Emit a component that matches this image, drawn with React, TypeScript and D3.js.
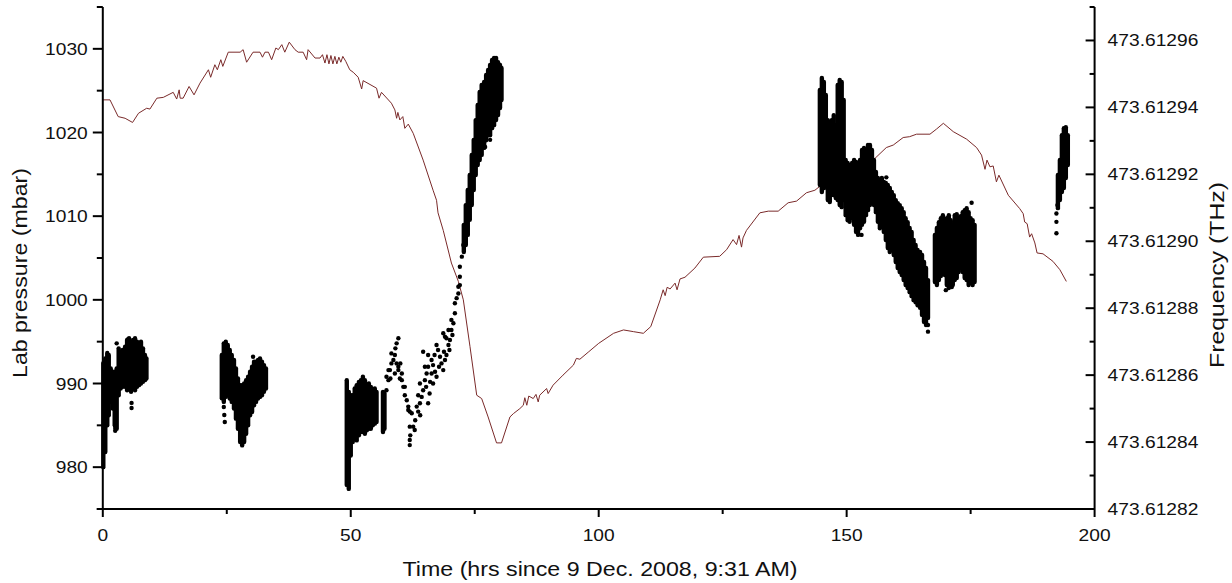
import React from "react";
import * as d3 from "d3";

const W = 1232;
const H = 583;
const M = { left: 102.8, right: 137.4, top: 7, bottom: 74 };

// Frequency reference (THz); frequency data below are offsets from it in MHz
const F0_THZ = 473.6128;

// Axis ticks
const timeMajor = [0, 50, 100, 150, 200];
const timeMinor = [25, 75, 125, 175];
const pressMajor = [980, 990, 1000, 1010, 1020, 1030];
const pressMinor = [975, 985, 995, 1005, 1015, 1025, 1035];
const freqMajorMHz = [20, 40, 60, 80, 100, 120, 140, 160];
const freqMinorMHz = [30, 50, 70, 90, 110, 130, 150, 170];

// Lab pressure: [hours, mbar]
const pressure: [number, number][] = [
  [0, 1023.9], [1.45, 1023.9], [3.1, 1021.9], [4.5, 1021.7], [6.0, 1021.2], [7.2, 1022.3],
  [8.85, 1022.9], [9.5, 1022.8], [10.9, 1024.1], [12.2, 1024.2], [14.2, 1024.8], [14.9, 1024.0],
  [15.4, 1025.1], [15.6, 1024.1], [16.2, 1024.1], [17.4, 1025.5], [18.4, 1024.5], [19.6, 1025.9],
  [21.3, 1027.5], [21.75, 1026.6], [22.6, 1028.1], [23.1, 1027.5], [23.8, 1028.7], [24.2, 1027.9],
  [25.3, 1029.6], [27.7, 1029.6], [28.3, 1029.9], [29.0, 1028.4], [30.3, 1029.6], [31.7, 1029.6],
  [32.2, 1029.0], [32.7, 1029.6], [33.4, 1029.6], [34.05, 1028.7], [34.9, 1030.1], [35.4, 1029.9],
  [36.1, 1030.5], [36.7, 1029.6], [37.6, 1030.8], [38.75, 1029.9], [39.4, 1029.6], [40.4, 1029.6],
  [41.1, 1028.7], [41.4, 1029.9], [42.8, 1028.9], [43.8, 1028.9], [44.3, 1029.3], [44.8, 1028.3],
  [45.2, 1029.3], [45.6, 1028.2], [46.0, 1029.2], [46.4, 1028.2], [46.8, 1029.1], [47.2, 1028.2],
  [47.6, 1029.0], [48.0, 1028.4], [48.4, 1029.1], [49.0, 1028.5], [49.8, 1027.5], [50.5, 1027.2],
  [51.5, 1026.6], [52.2, 1025.2], [52.5, 1026.2], [55.2, 1025.3], [55.7, 1024.1], [56.2, 1024.8],
  [58.2, 1023.5], [58.9, 1022.7], [59.25, 1021.7], [59.5, 1022.4], [59.9, 1021.5], [60.5, 1021.9],
  [60.9, 1020.5], [61.6, 1021.0], [62.6, 1019.9], [64.6, 1016.7], [66.6, 1013.1], [67.3, 1011.9],
  [67.6, 1010.4], [68.65, 1008.3], [70.3, 1004.4], [71.7, 1002.2], [72.7, 1000.0], [74.05, 994.4],
  [75.4, 988.6], [76.4, 988.2], [77.7, 986.0], [79.4, 982.9], [80.4, 982.9], [82.1, 986.0],
  [82.8, 986.4], [84.1, 987.0], [84.8, 987.4], [85.1, 988.3], [85.5, 987.4], [85.9, 988.5],
  [86.8, 988.2], [87.35, 988.7], [87.8, 987.8], [88.1, 988.6], [89.5, 989.4], [89.8, 988.8],
  [90.8, 989.8], [92.8, 991.0], [94.9, 992.2], [95.5, 993.0], [96.2, 992.9], [98.0, 993.8],
  [100.0, 994.8], [103.0, 996.0], [105.0, 996.4], [107.0, 996.2], [109.0, 996.0], [110.5, 996.8],
  [112.4, 1000.0], [113.0, 1001.2], [113.4, 1000.5], [113.8, 1001.5], [114.4, 1001.3], [115.4, 1002.0],
  [115.8, 1001.2], [116.4, 1002.5], [117.4, 1002.7], [119.4, 1003.8], [121.1, 1005.1], [124.4, 1005.2],
  [125.8, 1006.0], [127.1, 1007.2], [127.8, 1006.6], [128.3, 1007.7], [128.8, 1006.3], [129.1, 1007.4],
  [129.8, 1008.3], [132.5, 1010.4], [134.2, 1010.6], [136.2, 1010.6], [138.2, 1011.6], [139.9, 1011.8],
  [141.9, 1012.8], [143.6, 1013.1], [145.3, 1013.9], [149.7, 1014.9], [152.7, 1016.1], [155.7, 1016.9],
  [158.0, 1018.2], [159.4, 1018.5], [161.4, 1019.4], [162.7, 1019.5], [164.1, 1019.8], [166.8, 1019.8],
  [168.1, 1020.4], [169.5, 1021.1], [171.5, 1020.1], [174.2, 1019.2], [176.2, 1018.2], [177.2, 1017.3],
  [177.9, 1015.6], [178.3, 1016.7], [178.9, 1015.9], [179.55, 1016.0], [180.2, 1014.1], [180.7, 1014.9],
  [182.6, 1012.5], [184.9, 1010.9], [185.6, 1010.3], [185.9, 1009.3], [186.4, 1009.1], [186.9, 1007.5],
  [187.3, 1007.9], [187.95, 1006.8], [188.4, 1005.6], [189.6, 1005.5], [191.6, 1004.6], [193.0, 1003.6],
  [194.3, 1002.2],
];

// Frequency, dense runs of measurements: [hours, highest MHz, lowest MHz] (offset from F0_THZ)
const freqRunA: [number, number, number][] = [
  [0.1, 63.6, 32.5], [0.5, 65.0, 37.0], [0.9, 66.6, 45.0], [1.2, 66.0, 48.0], [1.6, 62.0, 52.0],
  [2.0, 61.0, 50.0], [2.4, 61.0, 45.0], [2.8, 62.0, 44.0], [3.2, 68.0, 54.0], [3.6, 67.0, 56.0],
  [4.0, 67.5, 56.5], [4.5, 68.5, 56.5], [4.9, 70.5, 55.5], [5.3, 71.0, 56.0], [5.7, 70.0, 55.0],
  [6.1, 70.5, 56.0], [6.5, 71.0, 55.5], [6.9, 70.0, 56.5], [7.3, 69.5, 57.0], [7.7, 70.0, 57.5],
  [8.1, 68.0, 58.0], [8.5, 66.0, 58.5], [8.8, 65.0, 59.0],
];
const freqRunB: [number, number, number][] = [
  [24.0, 66.0, 53.1], [24.4, 69.5, 52.0], [24.8, 70.0, 53.5], [25.2, 69.0, 54.0], [25.6, 67.5, 53.0],
  [26.0, 66.0, 52.0], [26.45, 64.5, 50.0], [26.85, 62.0, 47.0], [27.25, 59.0, 44.0], [27.7, 57.0, 40.0],
  [28.1, 57.0, 39.0], [28.5, 57.5, 40.0], [28.9, 58.5, 42.5], [29.3, 59.5, 45.0], [29.7, 61.0, 48.0],
  [30.1, 62.5, 49.0], [30.5, 64.0, 51.0], [30.9, 64.0, 52.0], [31.3, 64.5, 53.0], [31.7, 65.0, 53.5],
  [32.1, 64.0, 54.0], [32.5, 63.0, 55.0], [32.9, 62.0, 56.0],
];
const freqRunC: [number, number, number][] = [
  [49.2, 58.5, 27.2], [49.6, 55.0, 26.0], [50.0, 54.0, 36.0], [50.4, 54.0, 40.0], [50.8, 56.0, 41.0],
  [51.2, 57.0, 40.5], [51.65, 58.0, 42.0], [52.05, 58.5, 43.0], [52.45, 59.5, 43.0], [52.85, 58.5, 42.5],
  [53.25, 57.0, 43.5], [53.65, 57.5, 44.0], [54.05, 56.5, 44.0], [54.45, 55.5, 45.0], [54.85, 56.0, 45.5],
  [55.2, 55.0, 46.0], [56.5, 55.0, 43.0], [56.8, 54.5, 44.0],
];
const freqRunD: [number, number, number][] = [
  [72.8, 104.9, 96.8], [73.2, 110.8, 98.9], [73.6, 115.3, 101.9], [74.0, 119.8, 106.4], [74.4, 125.8, 110.8],
  [74.8, 130.3, 115.3], [75.2, 136.2, 119.8], [75.6, 140.7, 122.8], [76.0, 144.6, 124.3], [76.4, 146.7, 125.8],
  [76.9, 147.6, 127.9], [77.3, 149.7, 130.2], [77.7, 151.2, 131.7], [78.1, 152.7, 131.7], [78.5, 154.2, 133.8],
  [78.9, 154.8, 134.7], [79.3, 154.8, 136.2], [79.7, 153.5, 137.7], [80.1, 152.7, 139.8], [80.4, 151.8, 142.2],
];
const freqRunE: [number, number, number][] = [
  [144.6, 145.2, 116.8], [145.0, 148.8, 114.7], [145.4, 147.6, 115.9], [145.8, 143.7, 118.3], [146.2, 136.2, 112.3],
  [146.6, 134.7, 111.7], [147.0, 136.2, 113.8], [147.4, 137.7, 113.8], [147.8, 134.7, 112.9], [148.2, 146.7, 112.3],
  [148.6, 148.2, 110.8], [149.0, 147.6, 110.2], [149.4, 142.2, 112.3], [149.8, 124.3, 107.8], [150.2, 123.4, 106.3],
  [150.6, 122.8, 105.8], [151.1, 123.4, 106.9], [151.5, 124.3, 104.9], [151.9, 123.7, 102.8], [152.3, 122.8, 101.9],
  [152.7, 124.3, 103.9], [153.1, 127.3, 104.9], [153.5, 127.9, 105.8], [153.9, 126.7, 107.8], [154.3, 128.8, 109.3],
  [154.7, 128.8, 110.8], [155.1, 127.3, 112.3], [155.5, 124.3, 110.8], [155.9, 120.7, 108.7], [156.3, 118.9, 105.8],
  [156.7, 118.3, 103.9], [157.1, 118.9, 104.9], [157.5, 117.7, 102.8], [157.9, 117.4, 100.4], [158.3, 116.8, 98.0],
  [158.7, 115.9, 96.8], [159.1, 114.7, 97.4], [159.5, 113.8, 95.9], [159.9, 112.3, 93.8], [160.3, 111.4, 92.0],
  [160.7, 110.8, 90.8], [161.1, 109.9, 89.9], [161.5, 108.7, 88.4], [161.9, 106.9, 86.9], [162.3, 105.7, 86.0],
  [162.7, 104.0, 84.8], [163.1, 102.8, 83.6], [163.5, 100.4, 82.4], [163.9, 98.9, 81.8], [164.3, 97.4, 80.9],
  [164.8, 96.8, 80.1], [165.2, 95.9, 78.0], [165.6, 93.8, 75.9], [166.0, 92.0, 75.0], [166.4, 88.4, 77.1],
];
const freqRunF: [number, number, number][] = [
  [167.8, 101.9, 87.8], [168.2, 104.0, 86.9], [168.6, 105.7, 88.4], [169.0, 106.9, 89.6], [169.4, 107.8, 90.8],
  [169.8, 106.3, 89.9], [170.2, 106.9, 86.9], [170.6, 107.8, 86.0], [171.0, 106.3, 87.5], [171.4, 104.9, 86.9],
  [171.8, 107.8, 88.4], [172.2, 108.1, 89.0], [172.6, 106.9, 90.8], [173.0, 107.5, 92.0], [173.4, 108.7, 90.8],
  [173.8, 109.3, 89.0], [174.2, 109.9, 88.4], [174.6, 108.7, 86.9], [175.0, 106.9, 87.5], [175.4, 106.3, 86.9],
  [175.8, 104.9, 87.8],
];
const freqRunG: [number, number, number][] = [
  [192.6, 119.8, 109.9], [193.0, 124.3, 112.3], [193.4, 131.7, 114.7], [193.8, 133.8, 115.9],
  [194.2, 134.1, 118.9], [194.6, 131.7, 122.8],
];

// Frequency, isolated measurements: [hours, MHz offset from F0_THZ]
const freqPoints: [number, number][] = [
  [1.1, 65.5], [2.5, 44.2], [2.5, 43.4], [2.8, 69.5], [5.1, 70.7], [5.8, 51.7], [5.8, 50.2], [6.8, 69.5],
  [24.4, 50.5], [24.5, 48.1], [24.6, 46.0], [30.3, 65.5],
  [57.2, 55.5], [57.6, 58.5], [57.9, 61.5], [58.2, 63.5], [58.6, 64.5], [58.9, 66.0], [59.25, 69.5],
  [59.6, 71.0], [59.25, 63.5], [58.9, 60.5], [59.6, 61.5], [59.9, 59.0], [60.3, 58.5], [60.6, 56.5],
  [60.9, 54.0], [61.3, 52.5], [61.6, 49.6], [61.9, 49.1], [62.6, 44.6], [62.9, 43.6], [61.9, 39.1],
  [61.9, 40.6], [61.9, 44.6], [63.3, 50.6], [63.6, 49.1], [63.95, 51.6], [64.3, 53.5], [64.6, 55.5],
  [64.95, 58.5], [65.3, 60.5], [65.6, 62.5], [64.6, 67.0], [65.6, 66.0], [66.3, 64.5], [66.6, 63.0],
  [67.0, 61.0], [67.3, 59.5], [67.3, 69.0], [67.6, 67.5], [68.0, 65.5], [68.3, 63.5], [68.65, 61.5],
  [69.0, 64.5], [69.3, 66.0], [68.65, 72.5], [69.3, 71.0], [69.7, 69.0], [70.0, 70.5], [70.3, 73.5],
  [70.7, 75.5], [71.0, 78.5], [71.0, 81.5], [71.35, 83.0], [71.7, 84.4], [72.0, 86.9], [63.6, 54.0],
  [63.95, 57.5], [64.95, 62.5], [65.9, 54.5], [65.6, 51.6], [66.6, 57.5], [66.3, 60.5], [69.0, 71.5],
  [69.7, 73.5], [70.3, 76.5], [71.7, 86.4], [72.0, 89.4], [72.0, 92.4], [72.4, 95.4], [72.7, 98.9],
  [58.2, 66.5], [57.6, 61.5], [57.2, 59.5], [61.6, 50.6], [62.3, 48.6], [60.9, 56.5], [60.3, 60.5],
  [59.6, 62.5], [77.1, 128.2], [78.1, 130.3],
  [62.0, 42.0], [63.0, 46.5], [64.0, 48.0], [65.2, 56.5], [66.0, 58.0], [67.8, 62.5], [68.8, 67.0],
  [70.5, 72.0], [59.0, 68.0], [58.0, 59.0], [60.0, 63.5], [66.9, 66.0], [69.9, 67.5],
  [166.4, 73.0], [166.4, 75.0], [153.0, 101.9], [158.0, 119.1], [145.4, 115.9],
  [175.2, 111.5], [170.0, 85.4], [171.2, 86.3],
  [192.3, 102.4], [192.3, 105.8], [192.3, 108.3], [192.5, 110.8],
];

const freqRuns = [freqRunA, freqRunB, freqRunC, freqRunD, freqRunE, freqRunF, freqRunG];

const FONT = "'Liberation Sans', Arial, Helvetica, sans-serif";
const LINE_COLOR = "#7a2a2a";
const TEXT_COLOR = "#111";
const TICK_FS = 17;
const TICK_SX = 1.13;

function SText(props: {
  x: number;
  y: number;
  anchor: "start" | "middle" | "end";
  children: React.ReactNode;
}) {
  return (
    <text
      transform={`translate(${props.x},${props.y}) scale(${TICK_SX},1)`}
      textAnchor={props.anchor}
    >
      {props.children}
    </text>
  );
}

export default function App() {
  const x = d3.scaleLinear().domain([0, 200]).range([M.left, W - M.right]);
  const yP = d3.scaleLinear().domain([975, 1035]).range([H - M.bottom, M.top]);
  const yF = d3
    .scaleLinear()
    .domain([F0_THZ + 20e-6, F0_THZ + 170e-6])
    .range([H - M.bottom, M.top]);
  const fy = (mhz: number) => yF(F0_THZ + mhz * 1e-6);

  const linePath =
    d3
      .line<[number, number]>()
      .x((d) => x(d[0]))
      .y((d) => yP(d[1]))(pressure) || "";

  const x0 = x(0);
  const x1 = x(200);
  const yBot = yP(975);
  const yTop = yP(1035);

  return (
    <svg
      width={W}
      height={H}
      style={{ position: "absolute", left: 0, top: 0, background: "#fff" }}
      fontFamily={FONT}
    >
      <rect x={0} y={0} width={W} height={H} fill="#fff" />
      {/* pressure line */}
      <path d={linePath} fill="none" stroke={LINE_COLOR} strokeWidth={1} />

      {/* frequency runs */}
      <g stroke="#000" strokeWidth={4.4} strokeLinecap="round">
        {freqRuns.map((run, i) =>
          run.map((d, j) => (
            <line key={`r${i}-${j}`} x1={x(d[0])} x2={x(d[0])} y1={fy(d[1])} y2={fy(d[2])} />
          ))
        )}
      </g>
      <g fill="#000">
        {freqPoints.map((d, i) => (
          <circle key={`p${i}`} cx={x(d[0])} cy={fy(d[1])} r={2.2} />
        ))}
      </g>

      {/* axes */}
      <g stroke="#000" strokeWidth={2} fill="none">
        <line x1={x0} x2={x0} y1={yTop} y2={yBot} />
        <line x1={x1} x2={x1} y1={yTop} y2={yBot} />
        <line x1={x0 - 6} x2={x1} y1={yBot} y2={yBot} />
        {timeMajor.map((t) => (
          <line key={`tM${t}`} x1={x(t)} x2={x(t)} y1={yBot} y2={yBot + 8} />
        ))}
        {timeMinor.map((t) => (
          <line key={`tm${t}`} x1={x(t)} x2={x(t)} y1={yBot} y2={yBot + 5} />
        ))}
        {pressMajor.map((p) => (
          <line key={`pM${p}`} x1={x0 - 10} x2={x0} y1={yP(p)} y2={yP(p)} />
        ))}
        {pressMinor.map((p) => (
          <line key={`pm${p}`} x1={x0 - 6} x2={x0} y1={yP(p)} y2={yP(p)} />
        ))}
        {freqMajorMHz.map((f) => (
          <line key={`fM${f}`} x1={x1 - 9} x2={x1} y1={fy(f)} y2={fy(f)} />
        ))}
        {freqMinorMHz.map((f) => (
          <line key={`fm${f}`} x1={x1 - 5} x2={x1} y1={fy(f)} y2={fy(f)} />
        ))}
      </g>

      {/* tick labels */}
      <g fontSize={TICK_FS} fill={TEXT_COLOR}>
        {timeMajor.map((t) => (
          <SText key={`tl${t}`} x={x(t)} y={yBot + 32} anchor="middle">
            {t}
          </SText>
        ))}
        {pressMajor.map((p) => (
          <SText key={`pl${p}`} x={x0 - 15} y={yP(p) + 6} anchor="end">
            {p}
          </SText>
        ))}
        {freqMajorMHz.map((f) => (
          <SText key={`fl${f}`} x={x1 + 13} y={fy(f) + 6} anchor="start">
            {(F0_THZ + f * 1e-6).toFixed(5)}
          </SText>
        ))}
      </g>

      {/* axis titles */}
      <g fontSize={21} fill={TEXT_COLOR}>
        <text
          x={600}
          y={576}
          textAnchor="middle"
          textLength={395}
          lengthAdjust="spacingAndGlyphs"
        >
          Time (hrs since 9 Dec. 2008, 9:31 AM)
        </text>
        <text
          transform={`translate(27, 273) rotate(-90)`}
          textAnchor="middle"
          textLength={210}
          lengthAdjust="spacingAndGlyphs"
        >
          Lab pressure (mbar)
        </text>
        <text
          transform={`translate(1224, 275) rotate(-90)`}
          textAnchor="middle"
          textLength={186}
          lengthAdjust="spacingAndGlyphs"
        >
          Frequency (THz)
        </text>
      </g>
    </svg>
  );
}
